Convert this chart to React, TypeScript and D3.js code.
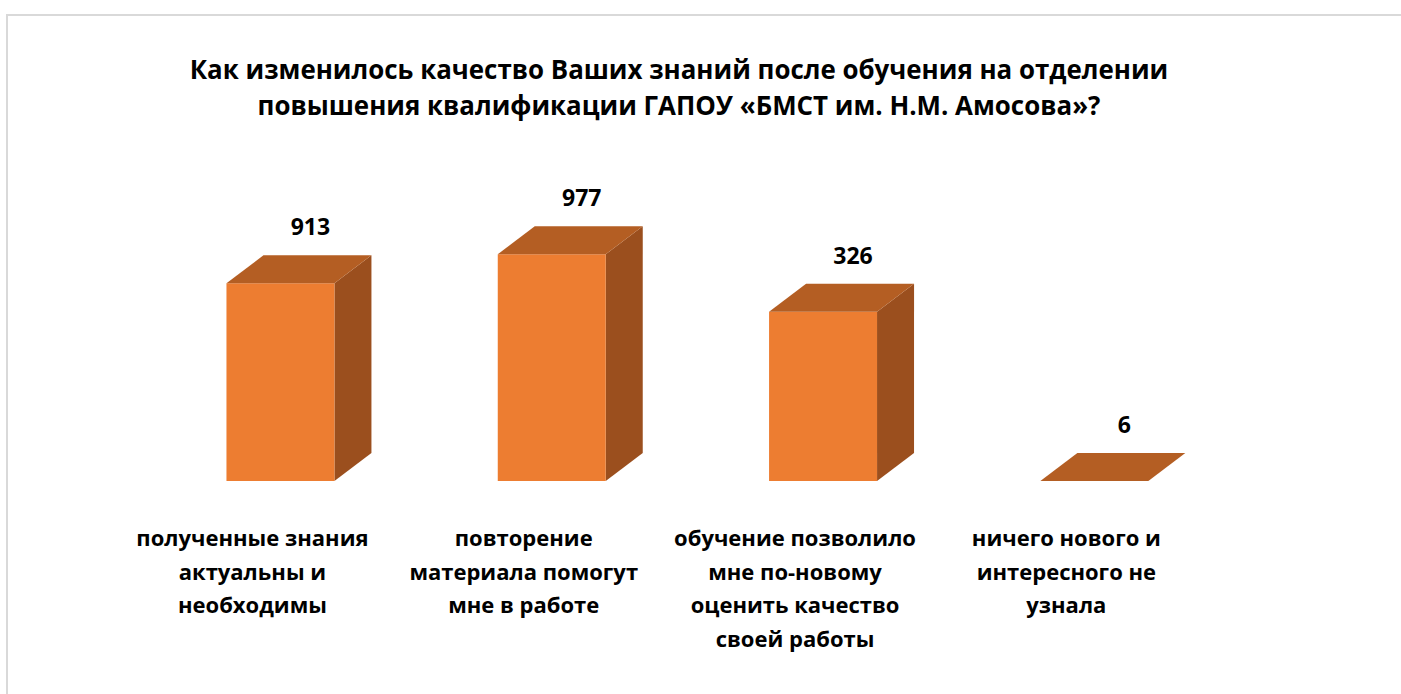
import React from "react";
import * as d3 from "d3";

const titleLines = [
  "Как изменилось качество Ваших знаний после обучения на отделении",
  "повышения квалификации ГАПОУ «БМСТ им. Н.М. Амосова»?",
];
const categories = [
  ["полученные знания", "актуальны и", "необходимы"],
  ["повторение", "материала помогут", "мне в работе"],
  ["обучение позволило", "мне по-новому", "оценить качество", "своей работы"],
  ["ничего нового и", "интересного не", "узнала"],
];
const dataLabels = [913, 977, 326, 6];
// bar heights as drawn in the picture, in the same units as the tallest bar (977)
const barLevels = [852, 977, 729, 0];

const W = 1401;
const H = 694;
const FONT = "'Open Sans', 'Noto Sans', sans-serif";

export default function App() {
  const x = d3
    .scaleBand<number>()
    .domain(d3.range(categories.length))
    .range([116.8, 1202])
    .padding(0);
  const y = d3.scaleLinear().domain([0, 1000]).range([481, 249]);
  const barW = x.bandwidth() * 0.398;
  const dx = 37;
  const dy = -28;
  const shift = 28;

  return (
    <svg
      width={W}
      height={H}
      style={{ position: "absolute", left: 0, top: 0, background: "#fff" }}
      fontFamily={FONT}
    >
      <path d={`M${W + 5},15 H7 V${H + 5}`} fill="none" stroke="#d9d9d9" strokeWidth={2} />
      {titleLines.map((t, i) => (
        <text
          key={i}
          x={679}
          y={69 + i * 36}
          textAnchor="middle"
          dominantBaseline="central"
          fontWeight="bold"
          fontSize={25.9}
          fill="#000"
        >
          {t}
        </text>
      ))}
      {barLevels.map((v, i) => {
        const cx = (x(i) as number) + x.bandwidth() / 2 + shift;
        const x0 = cx - barW / 2;
        const x1 = cx + barW / 2;
        const y0 = y(0);
        const yt = y(v);
        const front = `M${x0},${y0}H${x1}V${yt}H${x0}Z`;
        const top = `M${x0},${yt}L${x0 + dx},${yt + dy}H${x1 + dx}L${x1},${yt}Z`;
        const side = `M${x1},${y0}L${x1 + dx},${y0 + dy}V${yt + dy}L${x1},${yt}Z`;
        return (
          <g key={i}>
            {v > 0 && <path d={side} fill="#9b4f1e" />}
            {v > 0 && <path d={front} fill="#ed7d31" />}
            <path d={top} fill="#b45e23" />
            <text
              x={cx + 30}
              y={yt + dy - 29}
              textAnchor="middle"
              dominantBaseline="central"
              fontWeight="bold"
              fontSize={23}
              fill="#000"
            >
              {dataLabels[i]}
            </text>
          </g>
        );
      })}
      {categories.map((lines, i) => {
        const cx = (x(i) as number) + x.bandwidth() / 2;
        return (
          <g key={i}>
            {lines.map((l, j) => (
              <text
                key={j}
                x={cx}
                y={537 + j * 33.5}
                textAnchor="middle"
                dominantBaseline="central"
                fontWeight="bold"
                fontSize={22}
                fill="#000"
              >
                {l}
              </text>
            ))}
          </g>
        );
      })}
    </svg>
  );
}
